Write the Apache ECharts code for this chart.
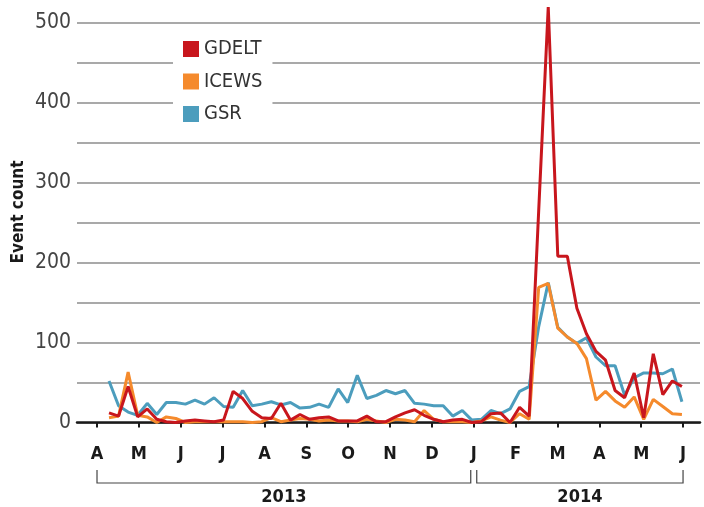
<!DOCTYPE html>
<html>
<head>
<meta charset="utf-8">
<script src="https://cdn.jsdelivr.net/npm/echarts@6/dist/echarts.min.js"></script>
<style>html,body{margin:0;padding:0;background:#fff}#c{width:704px;height:507px}</style>
</head>
<body>
<div id="c"></div>
<script>
// Month tick labels (April 2013 .. June 2014)
const monthLabels = ['A','M','J','J','A','S','O','N','D','J','F','M','A','M','J'];
const yearLabels = ['2013','2014'];
const seriesNames = ['GDELT','ICEWS','GSR'];
// Weekly event counts
const gdelt = [12,8,45,7,17,4,1,0,2,3,2,1,3,39,30,14,6,5,24,3,10,4,6,7,2,2,2,8,1,1,7,12,16,9,4,1,3,4,0,1,11,12,0,19,8,265,520,208,208,143,111,89,78,40,31,62,6,86,35,52,45];
const icews = [6,8,63,9,7,0,7,5,0,1,1,1,1,1,1,0,1,6,1,3,5,4,2,3,2,2,1,4,2,0,4,3,1,15,4,1,1,1,0,2,7,3,0,11,4,169,174,118,107,99,80,28,39,27,19,32,4,29,20,11,10];
const gsr = [52,21,13,9,24,10,25,25,23,28,23,31,20,19,40,21,23,26,22,25,18,19,23,19,42,25,59,30,34,40,36,40,24,23,21,21,8,15,3,4,15,11,17,39,45,120,175,119,107,99,106,82,71,71,34,56,62,62,61,67,26];

// week position in month units (0 = start of April 2013)
const firstWeek = 0.287, weekStep = 0.2281;
const pos = i => firstWeek + i * weekStep;
const toPts = arr => arr.map((v, i) => [pos(i), v]);

const FONT = "'Liberation Sans Narrow','DejaVu Sans Condensed','Roboto',sans-serif";
const colors = {GDELT:'#c8161d', ICEWS:'#f58a2c', GSR:'#4c9dbd'};
const monthIdx = monthLabels.map((m, i) => i);

const chart = echarts.init(document.getElementById('c'), null, {renderer:'canvas'});
chart.setOption({
  animation:false,
  backgroundColor:'#fff',
  grid:{left:77, right:4, top:23, bottom:84.5},
  xAxis:{
    type:'value', min:-0.478, max:14.405, offset:14.5,
    axisLine:{show:true, lineStyle:{color:'#1a1a1a', width:2.5}},
    axisTick:{show:true, customValues:monthIdx, length:5, lineStyle:{color:'#1a1a1a', width:2}},
    axisLabel:{customValues:monthIdx, formatter:v => monthLabels[Math.round(v)], margin:8,
      fontFamily:FONT, fontWeight:'bold', fontSize:18, color:'#1a1a1a'},
    splitLine:{show:false}
  },
  yAxis:{
    type:'value', min:0, max:500, interval:50,
    axisLine:{show:false}, axisTick:{show:false},
    axisLabel:{formatter:v => (v % 100 === 0 ? String(v) : ''), margin:6,
      fontFamily:FONT, fontSize:21, color:'#444'},
    splitLine:{lineStyle:{color:'#8c8c8c', width:1.5}}
  },
  legend:{
    data:seriesNames, orient:'vertical', left:173, top:31,
    backgroundColor:'#fff', padding:[8,10,8,10], icon:'rect',
    itemWidth:16, itemHeight:16, itemGap:12.5,
    textStyle:{fontFamily:FONT, fontSize:20, color:'#333'}
  },
  series:[
    {name:'GSR', type:'line', data:toPts(gsr), showSymbol:false, color:colors.GSR, lineStyle:{width:3, color:colors.GSR}, z:2},
    {name:'ICEWS', type:'line', data:toPts(icews), showSymbol:false, color:colors.ICEWS, lineStyle:{width:3, color:colors.ICEWS}, z:3},
    {name:'GDELT', type:'line', data:toPts(gdelt), showSymbol:false, clip:false, color:colors.GDELT, lineStyle:{width:3, color:colors.GDELT}, z:4}
  ]
});

// Year brackets under the month axis, positioned from the axis scale
const px = v => chart.convertToPixel({xAxisIndex:0}, v);
const yTop = 470, yBot = 483, yText = 497;
const brackets = [[0, 9, yearLabels[0]], [9, 14, yearLabels[1]]];
const graphics = [];
brackets.forEach(([a, b, label], k) => {
  const x1 = px(a) + (k === 1 ? 3 : 0);
  const x2 = px(b) - (k === 0 ? 3 : 0);
  graphics.push({type:'polyline', shape:{points:[[x1,yTop],[x1,yBot],[x2,yBot],[x2,yTop]]},
    style:{stroke:'#444', lineWidth:1.2, fill:null}, silent:true});
  graphics.push({type:'text', x:(x1 + x2) / 2, y:yText,
    style:{text:label, fill:'#1a1a1a', font:"bold 18px " + FONT, textAlign:'center', textVerticalAlign:'middle'}});
});
graphics.push({type:'text', x:19, y:212, rotation:Math.PI/2,
  style:{text:'Event count', fill:'#1a1a1a', font:"bold 17px " + FONT, textAlign:'center', textVerticalAlign:'middle'}});
chart.setOption({graphic:graphics});
</script>
</body>
</html>
